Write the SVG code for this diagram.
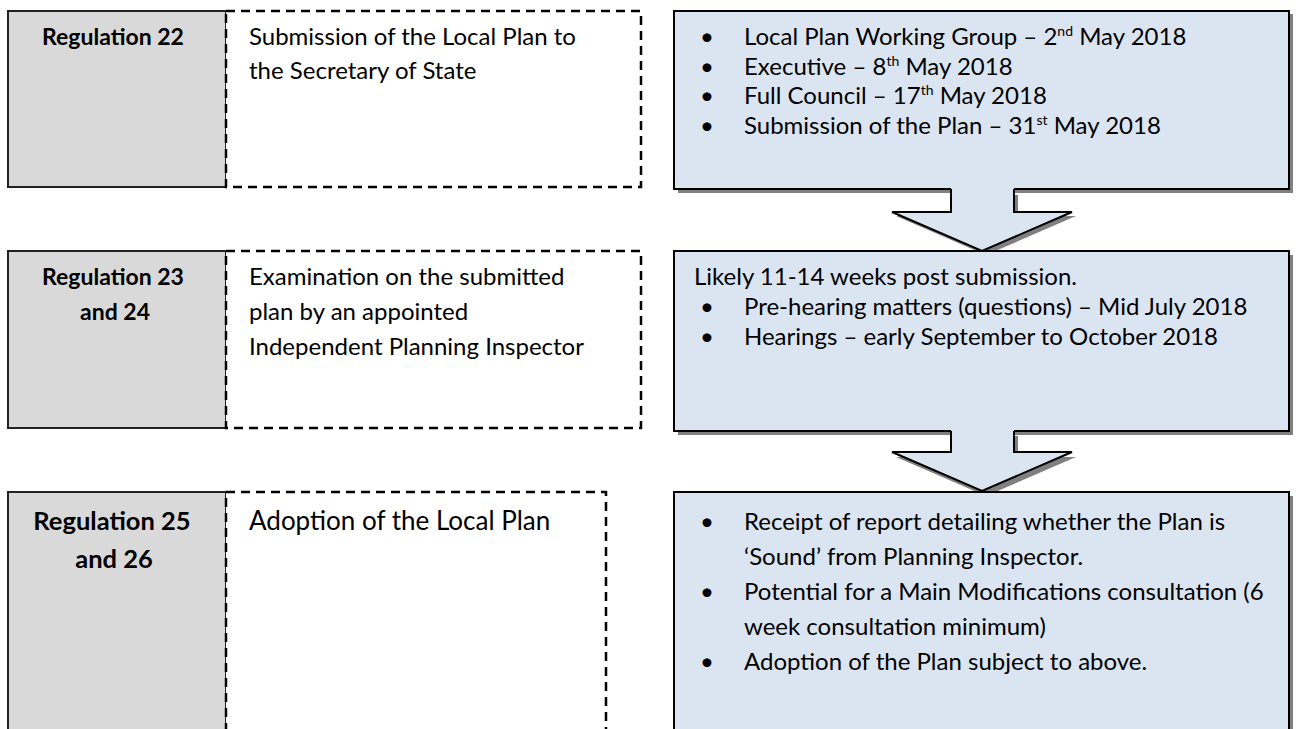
<svg xmlns="http://www.w3.org/2000/svg" width="1300" height="729" viewBox="0 0 1300 729">
<style>
  text { font-family: Lato, "Open Sans", "Liberation Sans", sans-serif; fill: #000; }
  .reg { fill: #d9d9d9; stroke: #222; stroke-width: 2; }
  .dash { fill: #fff; stroke: #000; stroke-width: 2.5; stroke-dasharray: 9 6; }
  .box { fill: #dbe5f1; stroke: #000; stroke-width: 2; }
  .shadow { fill: #808080; }
  .b { font-weight: bold; font-size: 23px; text-anchor: middle; }
  .t { font-size: 24px; }
  .b3 { font-weight: bold; font-size: 25.5px; text-anchor: middle; }
  .t3 { font-size: 26px; }
  .sup { font-size: 14px; }
  .arrowfill { fill: #dbe5f1; }
  .arrowline { fill: none; stroke: #000; stroke-width: 2; stroke-linejoin: miter; }
</style>
<rect width="1300" height="729" fill="#fff"/>

<g id="shadows">
  <rect class="shadow" x="678" y="14" width="615" height="179"/>
  <rect class="shadow" x="678" y="255" width="615" height="180"/>
  <rect class="shadow" x="678" y="496" width="615" height="240"/>
  <polygon class="shadow" points="955,195 955,216 896,216 986,255 1076,216 1018,216 1018,195"/>
  <polygon class="shadow" points="955,436 955,457 896,457 986,496 1076,457 1018,457 1018,436"/>
</g>

<g id="row1-reg">
  <rect class="reg" x="8" y="11" width="218" height="176"/>
  <text class="b" x="113" y="45">Regulation 22</text>
</g>
<g id="row1-desc">
  <rect class="dash" x="226" y="11" width="415" height="176"/>
  <text class="t" x="249" y="45">Submission of the Local Plan to</text>
  <text class="t" x="249" y="79">the Secretary of State</text>
</g>
<g id="row1-detail">
  <rect class="box" x="674" y="11" width="615" height="178"/>
  <text class="t" x="700" y="45">•</text>
  <text class="t" x="744" y="45">Local Plan Working Group – 2<tspan class="sup" dy="-9">nd</tspan><tspan dy="9"> May 2018</tspan></text>
  <text class="t" x="700" y="75">•</text>
  <text class="t" x="744" y="75">Executive – 8<tspan class="sup" dy="-9">th</tspan><tspan dy="9"> May 2018</tspan></text>
  <text class="t" x="700" y="104">•</text>
  <text class="t" x="744" y="104">Full Council – 17<tspan class="sup" dy="-9">th</tspan><tspan dy="9"> May 2018</tspan></text>
  <text class="t" x="700" y="134">•</text>
  <text class="t" x="744" y="134">Submission of the Plan – 31<tspan class="sup" dy="-9">st</tspan><tspan dy="9"> May 2018</tspan></text>
</g>

<g id="row2-reg">
  <rect class="reg" x="8" y="251" width="218" height="177"/>
  <text class="b" x="113" y="285">Regulation 23</text>
  <text class="b" x="115" y="320">and 24</text>
</g>
<g id="row2-desc">
  <rect class="dash" x="226" y="251" width="415" height="177"/>
  <text class="t" x="249" y="285">Examination on the submitted</text>
  <text class="t" x="249" y="320">plan by an appointed</text>
  <text class="t" x="249" y="355">Independent Planning Inspector</text>
</g>
<g id="row2-detail">
  <rect class="box" x="674" y="251" width="615" height="180"/>
  <text class="t" x="694" y="285">Likely 11-14 weeks post submission.</text>
  <text class="t" x="700" y="315">•</text>
  <text class="t" x="744" y="315">Pre-hearing matters (questions) – Mid July 2018</text>
  <text class="t" x="700" y="345">•</text>
  <text class="t" x="744" y="345">Hearings – early September to October 2018</text>
</g>

<g id="row3-reg">
  <rect class="reg" x="8" y="492" width="218" height="250"/>
  <text class="b3" x="112" y="530">Regulation 25</text>
  <text class="b3" x="114" y="568">and 26</text>
</g>
<g id="row3-desc">
  <rect class="dash" x="226" y="492" width="380" height="250"/>
  <text class="t3" x="249" y="530">Adoption of the Local Plan</text>
</g>
<g id="row3-detail">
  <rect class="box" x="674" y="492" width="615" height="250"/>
  <text class="t" x="700" y="530">•</text>
  <text class="t" x="744" y="530">Receipt of report detailing whether the Plan is</text>
  <text class="t" x="744" y="565">‘Sound’ from Planning Inspector.</text>
  <text class="t" x="700" y="600">•</text>
  <text class="t" x="744" y="600">Potential for a Main Modifications consultation (6</text>
  <text class="t" x="744" y="635">week consultation minimum)</text>
  <text class="t" x="700" y="670">•</text>
  <text class="t" x="744" y="670">Adoption of the Plan subject to above.</text>
</g>

<g id="connectors">
  <polygon class="arrowfill" points="951,186 951,212 892,212 982,251 1072,212 1014,212 1014,186"/>
  <polyline class="arrowline" points="951,189 951,212 892,212 982,251 1072,212 1014,212 1014,189"/>
  <polygon class="arrowfill" points="951,428 951,452 892,452 982,491 1072,452 1014,452 1014,428"/>
  <polyline class="arrowline" points="951,431 951,452 892,452 982,491 1072,452 1014,452 1014,431"/>
</g>
</svg>
